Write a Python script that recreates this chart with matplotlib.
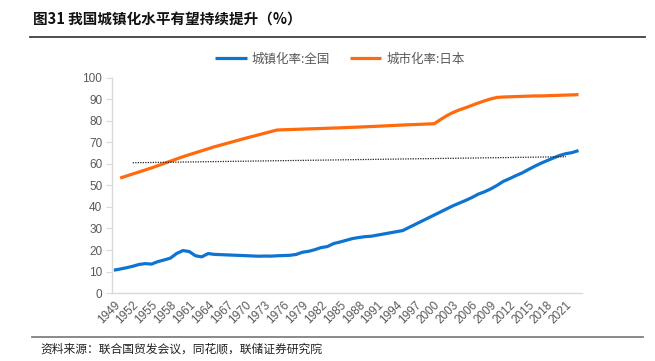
"""
Figure 31: urbanization rate, China vs Japan
"""

import matplotlib
matplotlib.use("Agg")
import matplotlib.pyplot as plt
from matplotlib.lines import Line2D

CJK = ["Noto Sans CJK SC", "DejaVu Sans"]

TITLE  = "图31 我国城镇化水平有望持续提升（%）"
SOURCE = "资料来源：联合国贸发会议，同花顺，联储证券研究院"
LABEL_CN = "城镇化率:全国"
LABEL_JP = "城市化率:日本"

# China, annual 1949-2023
cn_years = list(range(1949, 2024))
cn_rate = [
    10.64, 11.18, 11.78, 12.46, 13.31, 13.69, 13.48, 14.62, 15.39, 16.25,
    18.41, 19.75, 19.29, 17.33, 16.84, 18.37, 17.98, 17.86, 17.74, 17.62,
    17.50, 17.38, 17.26, 17.13, 17.20, 17.16, 17.34, 17.44, 17.55, 17.92,
    18.96, 19.39, 20.16, 21.13, 21.62, 23.01, 23.71, 24.52, 25.32, 25.81,
    26.21, 26.41, 26.94, 27.46, 27.99, 28.51, 29.04, 30.48, 31.91, 33.35,
    34.78, 36.22, 37.66, 39.09, 40.53, 41.76, 42.99, 44.34, 45.89, 46.99,
    48.34, 49.95, 51.83, 53.10, 54.49, 55.75, 57.33, 58.84, 60.24, 61.50,
    62.71, 63.89, 64.72, 65.22, 66.16,
]

# Japan, 5-yearly to 2000 then annual
jp_years = [1950, 1955, 1960, 1965, 1970, 1975, 1980, 1985, 1990, 1995,
            2000, 2001, 2002, 2003, 2004, 2005, 2006, 2007, 2008, 2009,
            2010, 2011, 2012, 2013, 2014, 2015, 2016, 2017, 2018, 2019,
            2020, 2021, 2022, 2023]
jp_rate = [53.4, 58.1, 63.3, 67.9, 71.9, 75.7, 76.2, 76.7, 77.3, 78.0,
           78.6, 80.5, 82.3, 83.8, 85.0, 86.0, 87.1, 88.2, 89.2, 90.1,
           90.8, 91.0, 91.1, 91.2, 91.3, 91.4, 91.5, 91.5, 91.6, 91.7,
           91.8, 91.9, 92.0, 92.1]

# dotted reference line
ref_years = [1952, 2021]
ref_rate  = [60.5, 63.3]

x_ticks = list(range(1949, 2022, 3))
y_ticks = list(range(0, 101, 10))

BLUE   = "#0E74D2"
ORANGE = "#FF6A0D"
GRAY   = "#595959"
AXIS   = "#D9D9D9"


def main():
    fig = plt.figure(figsize=(6.55, 3.61), dpi=100)
    ax = fig.add_axes([0.171, 0.188, 0.718, 0.597])

    ax.plot(cn_years, cn_rate, color=BLUE, linewidth=2.3, label=LABEL_CN,
            solid_capstyle="butt")
    ax.plot(jp_years, jp_rate, color=ORANGE, linewidth=2.3, label=LABEL_JP,
            solid_capstyle="butt")
    ax.plot(ref_years, ref_rate, color="#222222", linewidth=0.9, linestyle=(0, (1, 1)))

    ax.set_xlim(1948.7, 2023.6)
    ax.set_ylim(0, 100)
    ax.set_xticks(x_ticks)
    ax.set_xticklabels([str(y) for y in x_ticks], rotation=45, ha="right",
                       rotation_mode="anchor", fontsize=8.5, color=GRAY,
                       family="Liberation Sans")
    ax.set_yticks(y_ticks)
    ax.set_yticklabels([str(y) for y in y_ticks], fontsize=8.5, color=GRAY,
                       family="Liberation Sans")
    ax.tick_params(axis="x", length=0, pad=4)
    ax.tick_params(axis="y", length=4, color=AXIS, pad=3)

    for side in ["top", "right"]:
        ax.spines[side].set_visible(False)
    for side in ["left", "bottom"]:
        ax.spines[side].set_color(AXIS)
        ax.spines[side].set_linewidth(1.0)

    leg = ax.legend(loc="center", bbox_to_anchor=(0.485, 1.085), ncol=2,
                    frameon=False, handlelength=2.5, columnspacing=1.6,
                    handletextpad=0.4, prop={"family": CJK, "size": 9})
    for t in leg.get_texts():
        t.set_color(GRAY)

    fig.text(0.05, 0.945, TITLE, family=CJK, fontsize=10.5, fontweight="bold",
             va="center", ha="left", color="#111111")
    fig.add_artist(Line2D([0.046, 0.985], [0.8975, 0.8975], color="#404040",
                          linewidth=1.3))
    fig.add_artist(Line2D([0.049, 0.982], [0.0665, 0.0665], color="#808080",
                          linewidth=1.3))
    fig.text(0.061, 0.033, SOURCE, family=CJK, fontsize=8.5, va="center",
             ha="left", color="#222222")

    fig.savefig("out.png", dpi=100)
    plt.close(fig)


if __name__ == "__main__":
    main()
